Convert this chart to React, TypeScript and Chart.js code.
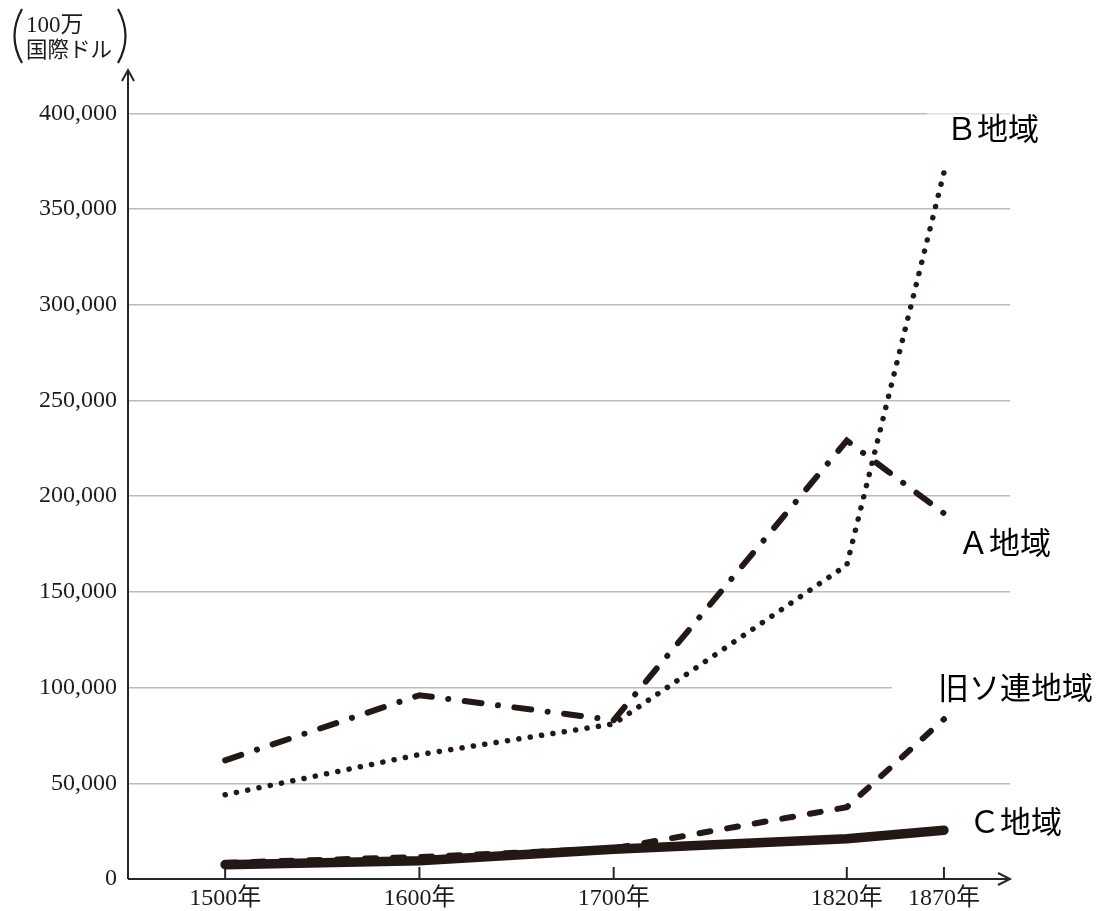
import { useEffect, useRef } from 'react';
import { Chart, registerables } from 'chart.js';

Chart.register(...registerables);

// GDP by region (millions of international dollars)
const years = [1500, 1600, 1700, 1820, 1870];
const regionA = [62000, 96000, 83000, 229000, 191000];
const regionB = [44000, 65000, 81000, 164000, 369000];
const formerUSSR = [8500, 11500, 16000, 37500, 83500];
const regionC = [7500, 9500, 15500, 21000, 25500];

const yTickValues = [0, 50000, 100000, 150000, 200000, 250000, 300000, 350000, 400000];
const unitLines = ['100万', '国際ドル'];
const nameA = 'Ａ地域';
const nameB = 'Ｂ地域';
const nameUSSR = '旧ソ連地域';
const nameC = 'Ｃ地域';

const INK = '#231815';
const AXIS = '#262626';
const GRID = '#bcbcbc';
const TEXT = '#1c1c1c';
const SERIF = "'Liberation Serif', 'Noto Sans CJK JP', serif";
const GOTHIC = "'Noto Sans CJK JP', 'Noto Sans', sans-serif";

const decorations = {
  id: 'decorations',
  beforeDatasetsDraw(chart: any) {
    const { ctx, chartArea, scales } = chart;
    const xs = scales.x;
    const ys = scales.y;
    const left = chartArea.left;
    const right = chartArea.right;
    const base = ys.getPixelForValue(0);
    ctx.save();
    ctx.strokeStyle = AXIS;
    ctx.lineWidth = 2;
    ctx.lineCap = 'butt';
    // vertical axis with arrow head
    ctx.beginPath();
    ctx.moveTo(left, base);
    ctx.lineTo(left, chartArea.top - 5);
    ctx.stroke();
    ctx.beginPath();
    ctx.moveTo(left - 6, chartArea.top + 6);
    ctx.lineTo(left, chartArea.top - 5);
    ctx.lineTo(left + 6, chartArea.top + 6);
    ctx.stroke();
    // horizontal axis with arrow head
    ctx.beginPath();
    ctx.moveTo(left, base);
    ctx.lineTo(right, base);
    ctx.stroke();
    ctx.beginPath();
    ctx.moveTo(right - 12, base - 6);
    ctx.lineTo(right, base);
    ctx.lineTo(right - 12, base + 6);
    ctx.stroke();
    // year tick marks, pointing up into the plot
    years.forEach((yr) => {
      const px = xs.getPixelForValue(yr);
      ctx.beginPath();
      ctx.moveTo(px, base);
      ctx.lineTo(px, base - 12);
      ctx.stroke();
    });
    ctx.restore();
  },
  afterDraw(chart: any) {
    const { ctx, scales } = chart;
    const xs = scales.x;
    const ys = scales.y;
    const endX = xs.getPixelForValue(1870);
    ctx.save();

    // soften the top grid line behind the B label
    ctx.fillStyle = 'rgba(255,255,255,0.55)';
    ctx.fillRect(endX - 17, ys.getPixelForValue(400000) - 4, 90, 8);
    // white box behind the former-USSR label
    ctx.fillStyle = '#ffffff';
    ctx.fillRect(endX - 52, ys.getPixelForValue(100000) - 17, 220, 35);

    ctx.fillStyle = '#000000';
    ctx.font = `31px ${GOTHIC}`;
    ctx.textAlign = 'left';
    ctx.textBaseline = 'alphabetic';
    ctx.fillText(nameB, endX + 2, ys.getPixelForValue(386000));
    ctx.fillText(nameA, endX + 14, ys.getPixelForValue(170000));
    ctx.fillText(nameUSSR, endX - 6, ys.getPixelForValue(94000));
    ctx.fillText(nameC, endX + 25, ys.getPixelForValue(24000));

    // unit caption with tall parentheses
    ctx.fillStyle = TEXT;
    ctx.font = `23px ${SERIF}`;
    ctx.fillText(unitLines[0], 26, 32);
    ctx.font = `21.5px ${SERIF}`;
    ctx.fillText(unitLines[1], 26, 57);
    ctx.strokeStyle = TEXT;
    ctx.lineWidth = 2.2;
    ctx.beginPath();
    ctx.moveTo(22, 9);
    ctx.quadraticCurveTo(7, 36, 22, 63);
    ctx.stroke();
    ctx.beginPath();
    ctx.moveTo(118, 9);
    ctx.quadraticCurveTo(133, 36, 118, 63);
    ctx.stroke();
    ctx.restore();
  },
};

export default function App() {
  const canvasRef = useRef<HTMLCanvasElement | null>(null);

  useEffect(() => {
    const canvas = canvasRef.current;
    if (!canvas) return;
    const toPoints = (vals: number[]) => years.map((yr, i) => ({ x: yr, y: vals[i] }));
    const chart = new Chart(canvas, {
      type: 'line',
      data: {
        datasets: [
          {
            label: nameC,
            data: toPoints(regionC),
            borderColor: INK,
            borderWidth: 9.5,
            borderCapStyle: 'round',
            borderJoinStyle: 'round',
            pointRadius: 0,
          },
          {
            label: nameUSSR,
            data: toPoints(formerUSSR),
            borderColor: INK,
            borderWidth: 6,
            borderDash: [11, 17],
            borderCapStyle: 'round',
            pointRadius: 0,
          },
          {
            label: nameA,
            data: toPoints(regionA),
            borderColor: INK,
            borderWidth: 6,
            borderDash: [17, 16.5, 0.1, 16.5],
            borderCapStyle: 'round',
            pointRadius: 0,
          },
          {
            label: nameB,
            data: toPoints(regionB),
            borderColor: INK,
            borderWidth: 5.5,
            borderDash: [0.1, 11.4],
            borderCapStyle: 'round',
            pointRadius: 0,
          },
        ],
      },
      options: {
        animation: false,
        responsive: false,
        devicePixelRatio: 1,
        layout: { padding: { left: 0, top: 75, right: 94, bottom: 0 } },
        plugins: {
          legend: { display: false },
          tooltip: { enabled: false },
          title: { display: false },
        },
        scales: {
          x: {
            type: 'linear',
            min: 1450,
            max: 1904,
            afterFit: (s: any) => {
              s.height = 32;
            },
            afterBuildTicks: (s: any) => {
              s.ticks = years.map((v) => ({ value: v }));
            },
            grid: { display: false, drawTicks: false },
            border: { display: false },
            ticks: {
              autoSkip: false,
              maxRotation: 0,
              padding: 5,
              color: TEXT,
              font: { family: SERIF, size: 24 },
              callback: (v: any) => `${v}年`,
            },
          },
          y: {
            type: 'linear',
            min: 0,
            max: 420000,
            afterFit: (s: any) => {
              s.width = 128;
            },
            afterBuildTicks: (s: any) => {
              s.ticks = yTickValues.map((v) => ({ value: v }));
            },
            grid: { color: GRID, lineWidth: 1.5, drawTicks: false },
            border: { display: false },
            ticks: {
              padding: 11,
              color: TEXT,
              font: { family: SERIF, size: 24 },
              callback: (v: any) => Number(v).toLocaleString('en-US'),
            },
          },
        },
      },
      plugins: [decorations],
    });
    return () => chart.destroy();
  }, []);

  return (
    <div style={{ position: 'absolute', left: 0, top: 0, width: 1104, height: 911, background: '#fff' }}>
      <canvas ref={canvasRef} width={1104} height={911} style={{ display: 'block' }} />
    </div>
  );
}
